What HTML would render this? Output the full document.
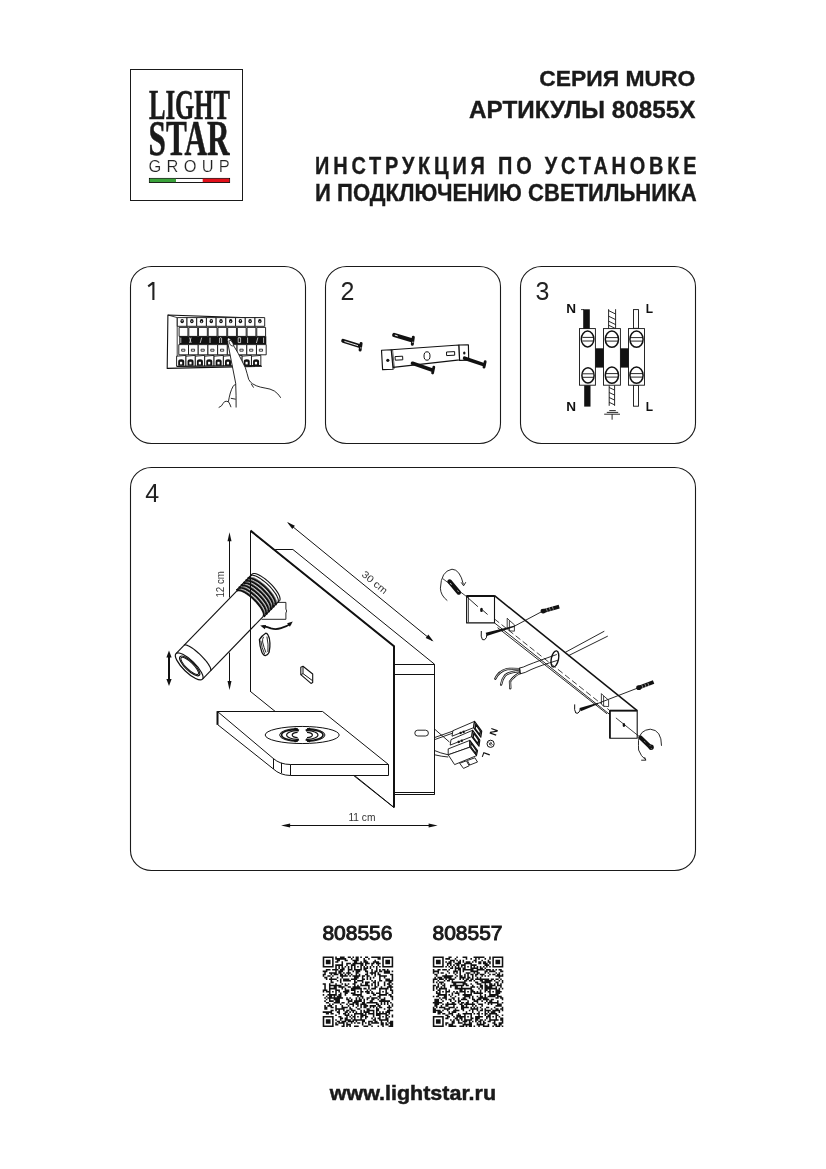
<!DOCTYPE html>
<html><head><meta charset="utf-8">
<style>
html,body{margin:0;padding:0;background:#fff;width:826px;height:1169px;overflow:hidden;}
svg{display:block;will-change:transform}
text{font-family:"Liberation Sans",sans-serif;}
.ser{font-family:"Liberation Serif",serif;}
</style></head><body>
<svg width="826" height="1169" viewBox="0 0 826 1169">
<rect width="826" height="1169" fill="#fff"/>
<!-- LOGO -->
<g id="logo">
<rect x="130.5" y="69.5" width="112" height="131" fill="none" stroke="#1a1a1a" stroke-width="1"/>
<text class="ser" x="149" y="118.5" font-size="41.5" font-weight="bold" fill="#1a1a1a" stroke="#1a1a1a" stroke-width="0.6" textLength="81" lengthAdjust="spacingAndGlyphs">LIGHT</text>
<text class="ser" x="148.6" y="155.2" font-size="51" font-weight="bold" fill="#1a1a1a" stroke="#1a1a1a" stroke-width="0.6" textLength="81" lengthAdjust="spacingAndGlyphs">STAR</text>
<text x="148.6" y="171.8" font-size="16.4" fill="#222" stroke="#fff" stroke-width="0.2" textLength="81.2" lengthAdjust="spacing">GROUP</text>
<rect x="149.4" y="178.4" width="80.2" height="4.1" fill="#fff" stroke="#000" stroke-width="0.9"/>
<rect x="149.7" y="178.7" width="26.3" height="3.4" fill="#3aa23a"/>
<rect x="202.7" y="178.7" width="26.6" height="3.4" fill="#e3101a"/>
</g>
<!-- HEADER -->
<g fill="#1a1a1a" font-weight="bold" stroke="#1a1a1a" stroke-width="0.35">
<text x="539.3" y="85.7" font-size="22.6" textLength="156" lengthAdjust="spacingAndGlyphs">СЕРИЯ MURO</text>
<text x="469" y="117.7" font-size="23.2" textLength="226.5" lengthAdjust="spacingAndGlyphs">АРТИКУЛЫ 80855X</text>
<text transform="translate(315.1 173.6) scale(0.86 1)" x="0" y="0" font-size="23.2" textLength="443.6" lengthAdjust="spacing">ИНСТРУКЦИЯ ПО УСТАНОВКЕ</text>
<text x="315.1" y="200.9" font-size="23.2" textLength="381.5" lengthAdjust="spacingAndGlyphs">И ПОДКЛЮЧЕНИЮ СВЕТИЛЬНИКА</text>
</g>
<!-- PANELS -->
<g fill="none" stroke="#1a1a1a" stroke-width="1.1">
<rect x="130.5" y="266.5" width="175" height="177" rx="21" ry="20"/>
<rect x="325.5" y="266.5" width="175" height="177" rx="21" ry="20"/>
<rect x="520.5" y="266.5" width="175" height="177" rx="21" ry="20"/>
<rect x="130.5" y="467.5" width="565" height="403" rx="21" ry="20"/>
</g>
<g fill="#222" font-size="25">
<text x="340.5" y="300">2</text>
<text x="535.5" y="300">3</text>
<text x="145.3" y="502">4</text>
</g>
<path d="M153.4 282V300M148.2 286.4L153.2 282.6" stroke="#222" stroke-width="2.1" fill="none"/>
<g id="p1" stroke-linejoin="round">
<path d="M262.5 318.4L167.9 315L167.2 368.4L262 366.2" fill="#fff" stroke="#111" stroke-width="1.1"/>
<path d="M167.9 315L177.2 317.6M177.2 317.6V366.8" fill="none" stroke="#111" stroke-width="0.8"/>
<rect x="177.30" y="317.6" width="9.71" height="8.7" fill="#fff" stroke="#111" stroke-width="0.9"/>
<ellipse cx="182.16" cy="321.2" rx="1.7" ry="2.1" fill="#111"/>
<rect x="181.66" y="320.20" width="1" height="1.2" fill="#fff"/>
<rect x="187.01" y="317.6" width="9.71" height="8.7" fill="#fff" stroke="#111" stroke-width="0.9"/>
<ellipse cx="191.87" cy="321.2" rx="1.7" ry="2.1" fill="#111"/>
<rect x="191.37" y="320.70" width="1" height="1.2" fill="#fff"/>
<rect x="196.72" y="317.6" width="9.71" height="8.7" fill="#fff" stroke="#111" stroke-width="0.9"/>
<ellipse cx="201.58" cy="321.2" rx="1.7" ry="2.1" fill="#111"/>
<rect x="201.08" y="321.20" width="1" height="1.2" fill="#fff"/>
<rect x="206.43" y="317.6" width="9.71" height="8.7" fill="#fff" stroke="#111" stroke-width="0.9"/>
<ellipse cx="211.28" cy="321.2" rx="1.7" ry="2.1" fill="#111"/>
<rect x="210.78" y="320.20" width="1" height="1.2" fill="#fff"/>
<rect x="216.14" y="317.6" width="9.71" height="8.7" fill="#fff" stroke="#111" stroke-width="0.9"/>
<ellipse cx="221.00" cy="321.2" rx="1.7" ry="2.1" fill="#111"/>
<rect x="220.50" y="320.70" width="1" height="1.2" fill="#fff"/>
<rect x="225.85" y="317.6" width="9.71" height="8.7" fill="#fff" stroke="#111" stroke-width="0.9"/>
<ellipse cx="230.71" cy="321.2" rx="1.7" ry="2.1" fill="#111"/>
<rect x="230.21" y="321.20" width="1" height="1.2" fill="#fff"/>
<rect x="235.56" y="317.6" width="9.71" height="8.7" fill="#fff" stroke="#111" stroke-width="0.9"/>
<ellipse cx="240.41" cy="321.2" rx="1.7" ry="2.1" fill="#111"/>
<rect x="239.91" y="320.20" width="1" height="1.2" fill="#fff"/>
<rect x="245.27" y="317.6" width="9.71" height="8.7" fill="#fff" stroke="#111" stroke-width="0.9"/>
<ellipse cx="250.12" cy="321.2" rx="1.7" ry="2.1" fill="#111"/>
<rect x="249.62" y="320.70" width="1" height="1.2" fill="#fff"/>
<rect x="254.98" y="317.6" width="9.71" height="8.7" fill="#fff" stroke="#111" stroke-width="0.9"/>
<ellipse cx="259.84" cy="321.2" rx="1.7" ry="2.1" fill="#111"/>
<rect x="259.34" y="321.20" width="1" height="1.2" fill="#fff"/>
<rect x="179.10" y="327.4" width="8.81" height="9" fill="#fff" stroke="#111" stroke-width="0.9"/>
<rect x="188.81" y="327.4" width="8.81" height="9" fill="#fff" stroke="#111" stroke-width="0.9"/>
<rect x="198.52" y="327.4" width="8.81" height="9" fill="#fff" stroke="#111" stroke-width="0.9"/>
<rect x="208.23" y="327.4" width="8.81" height="9" fill="#fff" stroke="#111" stroke-width="0.9"/>
<rect x="217.94" y="327.4" width="8.81" height="9" fill="#fff" stroke="#111" stroke-width="0.9"/>
<rect x="227.65" y="327.4" width="8.81" height="9" fill="#fff" stroke="#111" stroke-width="0.9"/>
<rect x="237.36" y="327.4" width="8.81" height="9" fill="#fff" stroke="#111" stroke-width="0.9"/>
<rect x="247.07" y="327.4" width="8.81" height="9" fill="#fff" stroke="#111" stroke-width="0.9"/>
<rect x="256.78" y="327.4" width="8.81" height="9" fill="#fff" stroke="#111" stroke-width="0.9"/>
<rect x="179.3" y="336.3" width="87" height="8" fill="#111"/>
<path d="M180.8 337.6V343M189.6 337.6L191.1 343M191.1 337.6L189.6 343M201.7 337.6L200.2 343M210.0 337.6V343M219.6 343V338.2Q220.6 337 221.6 338.2V343M238.2 337.8h2.4v4.8h-2.4zM247.6 337.6V343M257.9 337.6L256.4 343M263.6 337.6V343" stroke="#fff" stroke-width="0.7" fill="none"/>
<rect x="178.80" y="344.6" width="9.71" height="10.2" fill="#fff" stroke="#111" stroke-width="0.9"/>
<rect x="181.66" y="349.2" width="3.2" height="2" fill="#fff" stroke="#111" stroke-width="0.8"/>
<rect x="188.51" y="344.6" width="9.71" height="10.2" fill="#fff" stroke="#111" stroke-width="0.9"/>
<rect x="191.37" y="349.2" width="3.2" height="2" fill="#fff" stroke="#111" stroke-width="0.8"/>
<rect x="198.22" y="344.6" width="9.71" height="10.2" fill="#fff" stroke="#111" stroke-width="0.9"/>
<rect x="201.08" y="349.2" width="3.2" height="2" fill="#fff" stroke="#111" stroke-width="0.8"/>
<rect x="207.93" y="344.6" width="9.71" height="10.2" fill="#fff" stroke="#111" stroke-width="0.9"/>
<rect x="210.78" y="349.2" width="3.2" height="2" fill="#fff" stroke="#111" stroke-width="0.8"/>
<rect x="217.64" y="344.6" width="9.71" height="10.2" fill="#fff" stroke="#111" stroke-width="0.9"/>
<rect x="220.50" y="349.2" width="3.2" height="2" fill="#fff" stroke="#111" stroke-width="0.8"/>
<rect x="227.35" y="344.6" width="9.71" height="10.2" fill="#fff" stroke="#111" stroke-width="0.9"/>
<rect x="230.21" y="349.2" width="3.2" height="2" fill="#fff" stroke="#111" stroke-width="0.8"/>
<rect x="237.06" y="344.6" width="9.71" height="10.2" fill="#fff" stroke="#111" stroke-width="0.9"/>
<rect x="239.91" y="349.2" width="3.2" height="2" fill="#fff" stroke="#111" stroke-width="0.8"/>
<rect x="246.77" y="344.6" width="9.71" height="10.2" fill="#fff" stroke="#111" stroke-width="0.9"/>
<rect x="249.62" y="349.2" width="3.2" height="2" fill="#fff" stroke="#111" stroke-width="0.8"/>
<rect x="256.48" y="344.6" width="9.71" height="10.2" fill="#fff" stroke="#111" stroke-width="0.9"/>
<rect x="259.34" y="349.2" width="3.2" height="2" fill="#fff" stroke="#111" stroke-width="0.8"/>
<path d="M176.60 366.2V356.2L185.96 355.4V366" fill="#fff" stroke="#111" stroke-width="0.9"/>
<path d="M178.20 365.8V361.6Q178.20 359.2 181.20 359.2Q184.20 359.2 184.20 361.6V365.8Z" fill="#111"/>
<rect x="180.00" y="361.8" width="2.2" height="2.6" fill="#fff"/>
<path d="M185.96 366.2V356.2L195.32 355.4V366" fill="#fff" stroke="#111" stroke-width="0.9"/>
<path d="M187.56 365.8V361.6Q187.56 359.2 190.56 359.2Q193.56 359.2 193.56 361.6V365.8Z" fill="#111"/>
<rect x="189.36" y="361.8" width="2.2" height="2.6" fill="#fff"/>
<path d="M195.32 366.2V356.2L204.68 355.4V366" fill="#fff" stroke="#111" stroke-width="0.9"/>
<path d="M196.92 365.8V361.6Q196.92 359.2 199.92 359.2Q202.92 359.2 202.92 361.6V365.8Z" fill="#111"/>
<rect x="198.72" y="361.8" width="2.2" height="2.6" fill="#fff"/>
<path d="M204.68 366.2V356.2L214.04 355.4V366" fill="#fff" stroke="#111" stroke-width="0.9"/>
<path d="M206.28 365.8V361.6Q206.28 359.2 209.28 359.2Q212.28 359.2 212.28 361.6V365.8Z" fill="#111"/>
<rect x="208.08" y="361.8" width="2.2" height="2.6" fill="#fff"/>
<path d="M214.04 366.2V356.2L223.40 355.4V366" fill="#fff" stroke="#111" stroke-width="0.9"/>
<path d="M215.64 365.8V361.6Q215.64 359.2 218.64 359.2Q221.64 359.2 221.64 361.6V365.8Z" fill="#111"/>
<rect x="217.44" y="361.8" width="2.2" height="2.6" fill="#fff"/>
<path d="M223.40 366.2V356.2L232.76 355.4V366" fill="#fff" stroke="#111" stroke-width="0.9"/>
<path d="M225.00 365.8V361.6Q225.00 359.2 228.00 359.2Q231.00 359.2 231.00 361.6V365.8Z" fill="#111"/>
<rect x="226.80" y="361.8" width="2.2" height="2.6" fill="#fff"/>
<path d="M232.76 366.2V356.2L242.12 355.4V366" fill="#fff" stroke="#111" stroke-width="0.9"/>
<path d="M234.36 365.8V361.6Q234.36 359.2 237.36 359.2Q240.36 359.2 240.36 361.6V365.8Z" fill="#111"/>
<rect x="236.16" y="361.8" width="2.2" height="2.6" fill="#fff"/>
<path d="M242.12 366.2V356.2L251.48 355.4V366" fill="#fff" stroke="#111" stroke-width="0.9"/>
<path d="M243.72 365.8V361.6Q243.72 359.2 246.72 359.2Q249.72 359.2 249.72 361.6V365.8Z" fill="#111"/>
<rect x="245.52" y="361.8" width="2.2" height="2.6" fill="#fff"/>
<path d="M251.48 366.2V356.2L260.84 355.4V366" fill="#fff" stroke="#111" stroke-width="0.9"/>
<path d="M253.08 365.8V361.6Q253.08 359.2 256.08 359.2Q259.08 359.2 259.08 361.6V365.8Z" fill="#111"/>
<rect x="254.88" y="361.8" width="2.2" height="2.6" fill="#fff"/>
<path d="M176.6 366.4L261 365.6" stroke="#111" stroke-width="1.1"/>
<path d="M227.3 340.2Q227 338.2 228.6 338Q231 338.4 233.8 345.6L238.2 353.2L245.4 367.8L248.7 379.4L252.6 383.8Q256 386 260.4 387.1L270 389.1Q275.6 391 277.8 393.9L281 398.2L281 412L218 412L218.7 407.5Q222 404.4 224.5 401.7Q226.6 401.4 228.4 401.7L230.3 393L233.2 386.2L235.7 384Z" fill="#fff" stroke="none"/>
<path d="M227.3 340.4Q226.8 338.2 228.4 337.8Q230.6 337.8 233.6 345.6L238.1 353.2Q242 361 245.4 367.8Q247 373 248.7 379.4Q250.4 382.6 252.6 383.8Q256 386 260.4 387.1Q265 388 270 389.1Q275 390.6 277.8 393.9Q279.6 396 280.7 397.8M227.3 340.4L231.5 362L235.7 383.3Q236.2 395 236.1 407.5M251.2 383.8L253.6 387.6M235.7 384.2Q234 385 233.2 386.2Q231.5 389 230.3 393Q229.2 397 228.4 401.7Q229.8 403.5 231 407.2M228.4 401.7Q226 400.8 224.5 401.7Q222.8 403.6 221.5 405.8Q220 406.8 218.7 407.5M230.8 398.3L235.7 399.2" fill="none" stroke="#111" stroke-width="0.9"/>
<path d="M228.9 340.7Q229.6 339.6 231.2 340.8Q233.2 343 233.8 345.8Q232.2 346.4 230.6 345.2Q229 343 228.9 340.7Z" fill="#fff" stroke="#111" stroke-width="0.8"/>
</g>
<g id="p2" stroke-linejoin="round">
<!-- bracket -->
<g fill="#fff" stroke="#111" stroke-width="1.15">
<path d="M391.2 349.8L459 345L459.6 359.9L393.1 367.4Z"/>
<path d="M381.5 350.2L391.2 349.8L393.1 369.2L382.6 369.6Z"/>
<path d="M459 345L468.4 344.9L468.7 360.2L459.6 360.4Z"/>
</g>
<path d="M392.6 350L394.4 368.6" stroke="#111" stroke-width="0.7" fill="none"/>
<circle cx="387.8" cy="360.3" r="1.6" fill="#111"/>
<ellipse cx="464.3" cy="353" rx="1.2" ry="1.6" fill="#111"/>
<g fill="none" stroke="#111" stroke-width="1">
<path d="M395 356.6L402.6 356.2L402.8 359.8L395.3 360.2Z"/>
<ellipse cx="427" cy="356" rx="3" ry="4.2"/>
<path d="M446.5 352L454.6 351.6L454.7 355.2L446.6 355.6Z"/>
</g>
<!-- screws -->
<g stroke-linecap="round" fill="none" stroke="#111">
<path d="M343.2 340.9L360 346.2" stroke-width="4"/>
<path d="M394.2 335L411.8 340.3" stroke-width="4.2"/>
<path d="M412.5 363.3L432 370" stroke-width="3.6"/>
<path d="M464.6 358.2L483.6 364.6" stroke-width="3.6"/>
<path d="M361.1 343.4L360.1 350" stroke-width="3"/>
<path d="M413.3 337.2L412.3 344.2" stroke-width="3"/>
<path d="M433.8 367.2L432.6 373" stroke-width="2.8"/>
<path d="M485.2 361.6L484 367.2" stroke-width="2.8"/>
</g>
<g stroke="#fff" fill="none" stroke-width="0.9" stroke-linecap="round">
<path d="M344.8 341.5L357.6 345.5"/>
<path d="M395.2 335.2L397.4 335.9"/>
<path d="M360.9 347.6V348.2M412.9 342V342.6"/>
</g>
</g>

<g id="p3">
<g font-size="13" font-weight="bold" fill="#111">
<text x="566.3" y="312.6" textLength="9.8" lengthAdjust="spacingAndGlyphs">N</text>
<text x="645.8" y="312.6" textLength="7.3" lengthAdjust="spacingAndGlyphs">L</text>
<text x="566.3" y="410.6" textLength="9.8" lengthAdjust="spacingAndGlyphs">N</text>
<text x="645.8" y="410.6" textLength="7.3" lengthAdjust="spacingAndGlyphs">L</text>
</g>
<!-- wires -->
<rect x="583.2" y="309.3" width="6.6" height="20" fill="#111"/>
<path d="M581 309.6h3" stroke="#111" stroke-width="0.8"/>
<rect x="584.2" y="385.2" width="6.3" height="21.4" fill="#111"/>
<path d="M608.6 309.2V328.3M615.6 309.2V328.3M608.6 310.6L615.6 314.0M608.6 316.2L615.6 319.6M608.6 321.2L615.6 324.6M608.6 325.2L615.6 328.6" stroke="#111" stroke-width="0.9" fill="none"/>
<path d="M609.2 385.2V405.8M614.6 385.2V405.8M609.2 387.5L614.6 390.1M609.2 392.5L614.6 395.1M609.2 397.5L614.6 400.1M609.2 402.3L614.6 404.9" stroke="#111" stroke-width="0.9" fill="none"/>
<rect x="633.5" y="309.6" width="5" height="18.7" fill="#fff" stroke="#111" stroke-width="0.9"/>
<rect x="633.5" y="385.2" width="5" height="21" fill="#fff" stroke="#111" stroke-width="0.9"/>
<!-- blocks -->
<g fill="#fff" stroke="#111" stroke-width="0.9">
<rect x="579.5" y="328.6" width="15.9" height="56.6"/>
<rect x="603.5" y="328.6" width="16.9" height="56.6"/>
<rect x="628.5" y="328.6" width="16" height="56.6"/>
</g>
<rect x="595.4" y="348.3" width="8.1" height="19.3" fill="#111"/>
<rect x="620.4" y="348.3" width="8.1" height="19.3" fill="#111"/>
<!-- screws -->
<g fill="#fff" stroke="#111" stroke-width="1.5">
<ellipse cx="587.6" cy="339" rx="6.3" ry="7.9"/>
<ellipse cx="588" cy="375.4" rx="6.1" ry="7.6"/>
<ellipse cx="611.9" cy="339.2" rx="6.6" ry="8.1"/>
<ellipse cx="611.9" cy="375.2" rx="6.6" ry="8.1"/>
<ellipse cx="636.5" cy="339.2" rx="6.6" ry="8.1"/>
<ellipse cx="636.5" cy="375.2" rx="6.6" ry="8.1"/>
</g>
<g fill="none" stroke="#111" stroke-width="0.9">
<path d="M582.5 337.4h10.5M582.5 341h10.5M582.8 373.8h10.5M582.8 377.3h10.5"/>
<path d="M605.8 337.6h12.2M605.8 341.1h12.2M605.8 373.6h12.2M605.8 377.1h12.2"/>
<path d="M630.4 337.6h12.2M630.4 341.1h12.2M630.4 373.6h12.2M630.4 377.1h12.2"/>
</g>
<!-- earth -->
<g stroke="#111" stroke-width="0.9" fill="none">
<path d="M609.3 410.6h6.5M606.8 412.4h11.4M604.2 414.2h15.8M612.1 414.2v5.5"/>
</g>
</g>

<g id="p4" stroke-linejoin="round" stroke-linecap="butt">
<path d="M275.2 549.5L292.9 549.5 434.5 664.2 434.5 794.5 394.0 794.5 394.0 646.3Z" fill="#fff" stroke="#111" stroke-width="0"/>
<path d="M275.2 549.5L292.9 549.5 434.5 664.2 434.5 794.5 394.0 794.5" fill="none" stroke="#111" stroke-width="1.0" />
<path d="M394.5 664.5L434.5 664.5" fill="none" stroke="#111" stroke-width="1" />
<path d="M394.5 674.5L434.5 674.5" fill="none" stroke="#111" stroke-width="1" />
<path d="M394.5 792.5L434.5 792.5" fill="none" stroke="#111" stroke-width="1" />
<path d="M394.5 794.5L434.5 794.5" fill="none" stroke="#111" stroke-width="1" />
<rect x="414.8" y="730.2" width="13.6" height="5.8" rx="2.9" fill="#fff" stroke="#111" stroke-width="0.9"/>
<path d="M250.5 531.0L394.0 646.3 394.0 807.4 250.5 691.5Z" fill="#fff" stroke="#111" stroke-width="1.0"/>
<path d="M250.5 530.6L394.0 646.3 394.0 807.6" fill="none" stroke="#111" stroke-width="2.0" stroke-linejoin="miter"/>
<path d="M288.5 523.2L432.0 640.5" fill="none" stroke="#111" stroke-width="1.0" />
<path d="M287.0 522.0L294.9 525.7 292.3 529.0Z" fill="#111"/>
<path d="M433.6 641.6L425.7 637.9 428.3 634.6Z" fill="#111"/>
<text transform="translate(372.6 585) rotate(39.3)" text-anchor="middle" font-size="10" fill="#333" textLength="30" lengthAdjust="spacingAndGlyphs">30 cm</text>
<path d="M300.8 667.2L303 666.3L312.7 674V682.6L311 683.4L300.8 674.6Z" fill="#fff" stroke="#111" stroke-width="1.1"/>
<path d="M300.8 674.6L303 673.6L312.7 680.8M303 666.3V673.6" fill="none" stroke="#111" stroke-width="1"/>
<path d="M265.7 633.2Q262 635.4 259.4 639.6Q259.6 646 261.9 652.3Q263.4 655.6 265.3 655.7Q268 655 269.1 652.3Q270.2 647 269.9 643Q269.8 637.8 268.2 635.3Q267 633.2 265.7 633.2Z" fill="#fff" stroke="#111" stroke-width="1.3"/>
<path d="M260.8 640.6Q261.8 648 264.6 654M263.6 636.8Q262.2 639 262.6 642Q264 648 266 652.6M266.9 636.6Q268.6 644 267.9 652" fill="none" stroke="#111" stroke-width="0.9"/>
<path d="M262.5 626.2Q268 627 271 628.4Q276 629.8 281 628.2Q287 626.4 290.8 623.6" fill="none" stroke="#111" stroke-width="1.8"/>
<path d="M260.2 625.6L266.1 624.9 264.9 629.2Z" fill="#111"/>
<path d="M292.8 621.6L289.9 626.7 287.1 623.3Z" fill="#111"/>
<path d="M261.5 619.3H285.9V613Q287.4 611 285.9 609V602.4H276.7" fill="none" stroke="#111" stroke-width="0.9"/>
<path d="M202.5 679.2L201.8 679.6 200.9 679.8 199.9 679.8 198.6 679.6 197.2 679.1 195.6 678.5 194.0 677.6 192.2 676.5 190.4 675.2 188.6 673.8 186.8 672.3 185.1 670.7 183.4 669.0 181.8 667.2 180.3 665.4 179.0 663.7 177.9 662.0 177.0 660.3 176.2 658.8 175.7 657.4 175.4 656.2 175.4 655.1 175.6 654.2 176.0 653.6 253.2 573.1 253.8 572.7 254.7 572.5 255.8 572.5 257.1 572.8 258.5 573.3 260.1 574.0 261.8 574.9 263.6 576.0 265.4 577.3 267.3 578.8 269.2 580.4 271.0 582.1 272.7 583.8 274.4 585.6 275.9 587.4 277.2 589.2 278.4 591.0 279.4 592.7 280.2 594.2 280.7 595.7 281.0 596.9 281.1 598.0 280.9 598.9 280.4 599.6Z" fill="#fff" stroke="#111" stroke-width="0"/>
<path d="M184.0 645.3L236.9 590.8" fill="none" stroke="#111" stroke-width="1.15" />
<path d="M210.5 670.9L263.3 616.4" fill="none" stroke="#111" stroke-width="1.15" />
<path d="M176.0 653.6L184.0 645.3" fill="none" stroke="#111" stroke-width="1.15" />
<path d="M202.5 679.2L210.5 670.9" fill="none" stroke="#111" stroke-width="1.15" />
<path d="M210.5 670.9L210.8 670.4 210.8 669.6 210.7 668.7 210.3 667.6 209.6 666.3 208.8 664.9 207.8 663.3 206.6 661.7 205.2 660.0 203.7 658.3 202.1 656.6 200.4 654.9 198.6 653.2 196.9 651.7 195.1 650.2 193.4 648.9 191.7 647.7 190.1 646.8 188.7 646.0 187.4 645.4 186.2 645.0 185.3 644.9 184.6 645.0 184.0 645.3" fill="none" stroke="#111" stroke-width="1.15" />
<ellipse cx="189.2" cy="666.4" rx="18.4" ry="6" transform="rotate(44.1 189.2 666.4)" fill="#fff" stroke="#111" stroke-width="1.2"/>
<ellipse cx="189.7" cy="665.9" rx="13.4" ry="4.5" transform="rotate(44.1 189.7 665.9)" fill="#fff" stroke="#111" stroke-width="1.2"/>
<ellipse cx="189.7" cy="665.9" rx="11.8" ry="3.5" transform="rotate(44.1 189.7 665.9)" fill="none" stroke="#111" stroke-width="1.0"/>
<path d="M263.6 616.7L264.0 616.0 264.2 615.1 264.2 614.0 263.9 612.8 263.4 611.4 262.6 609.8 261.6 608.1 260.5 606.4 259.1 604.6 257.6 602.8 256.0 601.0 254.3 599.3 252.5 597.6 250.6 596.1 248.8 594.6 247.0 593.3 245.2 592.2 243.5 591.3 241.9 590.6 240.5 590.1 239.2 589.9 238.1 589.8 237.3 590.1 236.6 590.5" fill="none" stroke="#111" stroke-width="2.6" />
<path d="M264.9 614.5L264.9 613.6 264.7 612.6 264.4 611.5 263.9 610.2 263.2 608.9 262.4 607.5 261.4 606.1 260.3 604.6 259.1 603.0 257.8 601.5 256.4 600.0 255.0 598.6 253.5 597.2 251.9 595.8 250.4 594.6 248.8 593.4 247.3 592.4 245.8 591.5 244.4 590.7 243.0 590.0 241.8 589.6 240.7 589.3 239.6 589.1 238.8 589.1" fill="none" stroke="#fff" stroke-width="0.5" />
<path d="M265.9 614.3L266.3 613.6 266.5 612.8 266.5 611.7 266.2 610.4 265.6 609.0 264.9 607.4 263.9 605.8 262.8 604.0 261.4 602.3 259.9 600.5 258.3 598.7 256.6 596.9 254.8 595.3 252.9 593.7 251.1 592.2 249.3 591.0 247.5 589.8 245.8 588.9 244.2 588.2 242.8 587.7 241.5 587.5 240.4 587.5 239.6 587.7 238.9 588.1" fill="none" stroke="#111" stroke-width="2.6" />
<path d="M267.2 612.1L267.2 611.2 267.0 610.2 266.7 609.1 266.2 607.9 265.5 606.5 264.7 605.1 263.7 603.7 262.6 602.2 261.4 600.7 260.1 599.2 258.7 597.7 257.3 596.2 255.8 594.8 254.2 593.5 252.7 592.2 251.1 591.0 249.6 590.0 248.1 589.1 246.7 588.3 245.3 587.7 244.1 587.2 243.0 586.9 241.9 586.7 241.0 586.8" fill="none" stroke="#fff" stroke-width="0.5" />
<path d="M268.2 611.9L268.6 611.3 268.8 610.4 268.8 609.3 268.5 608.0 267.9 606.6 267.2 605.1 266.2 603.4 265.1 601.7 263.7 599.9 262.2 598.1 260.6 596.3 258.9 594.6 257.1 592.9 255.2 591.3 253.4 589.9 251.6 588.6 249.8 587.5 248.1 586.6 246.5 585.9 245.1 585.4 243.8 585.1 242.7 585.1 241.9 585.3 241.2 585.8" fill="none" stroke="#111" stroke-width="2.6" />
<path d="M269.5 609.8L269.5 608.9 269.3 607.9 269.0 606.7 268.5 605.5 267.8 604.2 267.0 602.8 266.0 601.3 264.9 599.8 263.7 598.3 262.4 596.8 261.0 595.3 259.6 593.8 258.1 592.4 256.5 591.1 255.0 589.8 253.4 588.7 251.9 587.6 250.4 586.7 249.0 585.9 247.6 585.3 246.4 584.8 245.2 584.5 244.2 584.4 243.3 584.4" fill="none" stroke="#fff" stroke-width="0.5" />
<path d="M270.5 609.6L270.9 608.9 271.1 608.0 271.1 606.9 270.8 605.7 270.2 604.3 269.5 602.7 268.5 601.0 267.4 599.3 266.0 597.5 264.5 595.7 262.9 593.9 261.2 592.2 259.4 590.5 257.5 588.9 255.7 587.5 253.9 586.2 252.1 585.1 250.4 584.2 248.8 583.5 247.4 583.0 246.1 582.8 245.0 582.7 244.2 583.0 243.5 583.4" fill="none" stroke="#111" stroke-width="2.6" />
<path d="M271.8 607.4L271.8 606.5 271.6 605.5 271.3 604.4 270.8 603.1 270.1 601.8 269.3 600.4 268.3 598.9 267.2 597.5 266.0 595.9 264.7 594.4 263.3 592.9 261.9 591.5 260.4 590.1 258.8 588.7 257.3 587.5 255.7 586.3 254.2 585.3 252.7 584.3 251.3 583.6 249.9 582.9 248.7 582.5 247.5 582.2 246.5 582.0 245.6 582.0" fill="none" stroke="#fff" stroke-width="0.5" />
<path d="M272.8 607.2L273.2 606.5 273.4 605.6 273.4 604.6 273.1 603.3 272.5 601.9 271.8 600.3 270.8 598.7 269.7 596.9 268.3 595.1 266.8 593.3 265.2 591.6 263.5 589.8 261.7 588.1 259.8 586.6 258.0 585.1 256.2 583.8 254.4 582.7 252.7 581.8 251.1 581.1 249.7 580.6 248.4 580.4 247.3 580.4 246.4 580.6 245.8 581.0" fill="none" stroke="#111" stroke-width="2.6" />
<path d="M274.1 605.0L274.1 604.1 273.9 603.1 273.6 602.0 273.1 600.8 272.4 599.4 271.6 598.0 270.6 596.6 269.5 595.1 268.3 593.6 267.0 592.1 265.6 590.6 264.2 589.1 262.7 587.7 261.1 586.3 259.6 585.1 258.0 583.9 256.5 582.9 255.0 582.0 253.6 581.2 252.2 580.6 251.0 580.1 249.8 579.8 248.8 579.6 247.9 579.7" fill="none" stroke="#fff" stroke-width="0.5" />
<path d="M275.1 604.8L275.5 604.2 275.7 603.3 275.7 602.2 275.4 600.9 274.8 599.5 274.1 598.0 273.1 596.3 271.9 594.6 270.6 592.8 269.1 591.0 267.5 589.2 265.8 587.4 264.0 585.8 262.1 584.2 260.3 582.8 258.5 581.5 256.7 580.4 255.0 579.5 253.4 578.7 252.0 578.3 250.7 578.0 249.6 578.0 248.7 578.2 248.1 578.7" fill="none" stroke="#111" stroke-width="2.6" />
<path d="M276.4 602.6L276.4 601.8 276.2 600.7 275.9 599.6 275.3 598.4 274.7 597.1 273.9 595.7 272.9 594.2 271.8 592.7 270.6 591.2 269.3 589.7 267.9 588.2 266.5 586.7 264.9 585.3 263.4 584.0 261.9 582.7 260.3 581.6 258.8 580.5 257.3 579.6 255.9 578.8 254.5 578.2 253.3 577.7 252.1 577.4 251.1 577.3 250.2 577.3" fill="none" stroke="#fff" stroke-width="0.5" />
<path d="M277.7 602.5L278.2 601.9 278.3 601.0 278.3 599.9 278.0 598.6 277.4 597.2 276.7 595.6 275.7 593.9 274.5 592.2 273.1 590.3 271.6 588.5 270.0 586.7 268.2 584.9 266.4 583.2 264.5 581.6 262.6 580.2 260.8 578.9 259.0 577.7 257.3 576.8 255.7 576.1 254.2 575.6 252.9 575.3 251.9 575.3 251.0 575.5 250.3 575.9" fill="none" stroke="#111" stroke-width="1.1" />
<path d="M279.5 600.7L279.9 600.1 280.1 599.2 280.0 598.1 279.7 596.8 279.2 595.4 278.4 593.8 277.4 592.1 276.2 590.4 274.9 588.6 273.3 586.7 271.7 584.9 269.9 583.1 268.1 581.4 266.2 579.8 264.4 578.4 262.5 577.1 260.7 575.9 259.0 575.0 257.4 574.3 256.0 573.8 254.7 573.5 253.6 573.5 252.7 573.7 252.0 574.2" fill="none" stroke="#111" stroke-width="1.1" />
<path d="M263.8 616.9L279.5 600.7" fill="none" stroke="#111" stroke-width="1.1" />
<path d="M236.4 590.3L252.0 574.2" fill="none" stroke="#111" stroke-width="1.1" />
<path d="M250.5 531.0L250.5 692.0" fill="none" stroke="#111" stroke-width="1.0" />
<path d="M229.5 538.0L229.5 597.5" fill="none" stroke="#111" stroke-width="1.0" />
<path d="M229.5 652.6L229.5 684.0" fill="none" stroke="#111" stroke-width="1.0" />
<path d="M229.5 532.3L231.5 541.3 227.5 541.3Z" fill="#111"/>
<path d="M229.5 690.0L227.5 681.0 231.5 681.0Z" fill="#111"/>
<text transform="translate(223.8 584.3) rotate(-90)" text-anchor="middle" font-size="10" fill="#333" textLength="26.5" lengthAdjust="spacingAndGlyphs">12 cm</text>
<path d="M169.0 655.0L169.0 681.5" fill="none" stroke="#111" stroke-width="2.0" />
<path d="M169.0 650.6L171.6 657.6 166.4 657.6Z" fill="#111"/>
<path d="M169.0 686.0L166.4 679.0 171.6 679.0Z" fill="#111"/>
<path d="M217.5 711.5H322.6L388.5 764.5V775.5H290.6Q280 775.3 273.2 768.8L217.5 724.5Z" fill="#fff" stroke="none"/>
<path d="M217.5 711.5H322.6L388.5 764.5V775.5H290.6Q280 775.3 273.2 768.8L217.5 724.5" fill="none" stroke="#111" stroke-width="1"/>
<path d="M217.5 711.5L273.2 758.4Q280 764.5 290.6 764.5H388.5" fill="none" stroke="#111" stroke-width="1"/>
<path d="M217.5 711.2L217.5 724.8" fill="none" stroke="#111" stroke-width="2.0" />
<path d="M273.5 758.7L273.5 769.0" fill="none" stroke="#111" stroke-width="1" />
<path d="M281.5 762.8L281.5 773.0" fill="none" stroke="#111" stroke-width="1" />
<path d="M290.5 764.5L290.5 775.5" fill="none" stroke="#111" stroke-width="1" />
<path d="M353.6 775.5L393.7 807.4" fill="none" stroke="#111" stroke-width="1.0" />
<ellipse cx="302.2" cy="735" rx="37" ry="8.55" fill="#fff" stroke="#111" stroke-width="1.0"/>
<path d="M297.6 728.6A18 6.4 0 1 0 297.6 741.4" fill="none" stroke="#111" stroke-width="1.0"/>
<path d="M297.6 729.4A16 5.6 0 1 0 297.6 740.6" fill="none" stroke="#111" stroke-width="1.6"/>
<path d="M297.6 730.6A11 4.4 0 1 0 297.6 739.4" fill="none" stroke="#111" stroke-width="1.1"/>
<path d="M297.6 732.4A5.4 2.6 0 1 0 297.6 737.6" fill="none" stroke="#111" stroke-width="1.2"/>
<path d="M294.4 728.4L298.8 730.8M294.4 741.6L298.8 739.2" stroke="#111" stroke-width="2.2" fill="none"/>
<path d="M307.0 728.6A18 6.4 0 1 1 307.0 741.4" fill="none" stroke="#111" stroke-width="1.0"/>
<path d="M307.0 729.4A16 5.6 0 1 1 307.0 740.6" fill="none" stroke="#111" stroke-width="1.6"/>
<path d="M307.0 730.6A11 4.4 0 1 1 307.0 739.4" fill="none" stroke="#111" stroke-width="1.1"/>
<path d="M307.0 732.4A5.4 2.6 0 1 1 307.0 737.6" fill="none" stroke="#111" stroke-width="1.2"/>
<path d="M310.2 728.4L305.8 730.8M310.2 741.6L305.8 739.2" stroke="#111" stroke-width="2.2" fill="none"/>
<path d="M286.0 825.5L432.5 825.5" fill="none" stroke="#111" stroke-width="1.0" />
<path d="M281.1 825.5L290.1 823.4 290.1 827.6Z" fill="#111"/>
<path d="M437.6 825.5L428.6 827.6 428.6 823.4Z" fill="#111"/>
<text x="361.9" y="821.1" text-anchor="middle" font-size="11" fill="#333" textLength="27" lengthAdjust="spacingAndGlyphs">11 cm</text>
</g>
<g id="p4b" stroke-linejoin="round">
<path d="M434.7 737.5L452.9 731.1M434.7 739.6L452.5 733.2M434.7 729.2L449.5 742.1M434.7 750.6Q440 753 448.2 754.8M434.7 754.8Q441 756.4 448.2 757" fill="none" stroke="#111" stroke-width="0.9"/>
<path d="M452.9 730.7L474.5 721.4 473.6 727.7 452.0 736.2Z" fill="#fff" stroke="#111" stroke-width="0.9"/>
<path d="M474.5 721.4L481.7 731.1 480.8 737.2 473.6 727.7Z" fill="#fff" stroke="#111" stroke-width="1.2"/>
<path d="M475.8 724.3L480.4 731.1 479.8 734.9 475.1 728.6Z" fill="#fff" stroke="#111" stroke-width="1.4"/>
<path d="M459.7 733.2L465.6 731.1" stroke="#111" stroke-width="2.2" stroke-dasharray="2 1.2"/>
<path d="M451.0 739.6L472.6 730.3 471.8 736.6 450.2 745.1Z" fill="#fff" stroke="#111" stroke-width="0.9"/>
<path d="M472.6 730.3L479.8 740.0 479.0 746.1 471.8 736.6Z" fill="#fff" stroke="#111" stroke-width="1.2"/>
<path d="M473.9 733.2L478.6 740.0 478.0 743.8 473.2 737.5Z" fill="#fff" stroke="#111" stroke-width="1.4"/>
<path d="M457.8 742.1L463.7 740.0" stroke="#111" stroke-width="2.2" stroke-dasharray="2 1.2"/>
<path d="M448.2 748.9L469.8 740.4 469.8 747.2 448.2 754.8Z" fill="#fff" stroke="#111" stroke-width="0.9"/>
<path d="M469.8 740.4L477.5 750.6 476.4 755.7 469.8 747.2Z" fill="#fff" stroke="#111" stroke-width="1.2"/>
<path d="M471.1 743.0L476.4 750.6 475.8 753.6 470.8 746.8Z" fill="#fff" stroke="#111" stroke-width="1.3"/>
<path d="M448.2 754.8L469.8 747.2 476.4 755.7 454.6 764.6Z" fill="#fff" stroke="#111" stroke-width="0.9"/>
<path d="M459.7 763.3L466.4 760.8 469.2 765.8 463.5 768.4Z" fill="#fff" stroke="#111" stroke-width="0.9"/>
<path d="M467.3 760.5L474.9 757.8 477.5 762.0 469.8 765.0Z" fill="#fff" stroke="#111" stroke-width="0.9"/>
<g font-weight="bold" fill="#111" font-size="10">
<text transform="translate(493.7,731.8) rotate(110)" text-anchor="middle" dominant-baseline="central">N</text>
<text transform="translate(486.1,755.3) rotate(110)" text-anchor="middle" dominant-baseline="central">L</text>
</g>
<circle cx="490.6" cy="743.8" r="3.6" fill="#fff" stroke="#111" stroke-width="1"/>
<path d="M488.6 742.4L491.4 746.0M490.0 741.6L492.6 745.0M489.0 744.8L492.0 742.6" stroke="#111" stroke-width="0.7"/>
<path d="M494.5 595.7L637.2 710.6 609.9 710.6 494.5 622.9Z" fill="#fff" stroke="#111" stroke-width="0"/>
<path d="M494.5 595.7L637.2 710.6" fill="none" stroke="#111" stroke-width="1.5" />
<path d="M494.5 622.9L609.9 714.6" fill="none" stroke="#111" stroke-width="0.9" />
<path d="M497.5 627.6L607.0 713.8" fill="none" stroke="#111" stroke-width="0.9" />
<path d="M494.5 619.0L609.9 710.6" fill="none" stroke="#111" stroke-width="0.8" stroke-dasharray="6 3"/>
<path d="M466.6 595.7L494.5 595.7 494.5 622.9 466.6 622.9Z" fill="#fff" stroke="#111" stroke-width="1.1"/>
<path d="M466.6 596.0L494.5 596.0" fill="none" stroke="#111" stroke-width="2.0" />
<path d="M468.4 596.6L468.4 622.2" fill="none" stroke="#111" stroke-width="0.8" />
<path d="M609.9 710.6L637.2 710.6 637.2 738.3 609.9 738.3Z" fill="#fff" stroke="#111" stroke-width="1.1"/>
<path d="M609.9 710.6L637.2 710.6" fill="none" stroke="#111" stroke-width="1.8" />
<path d="M609.9 710.6L609.9 738.3" fill="none" stroke="#111" stroke-width="1.6" />
<path d="M466.5 596.5L477.9 606.7" fill="none" stroke="#111" stroke-width="0.9" />
<path d="M482.8 610.3L487.6 614.5" fill="none" stroke="#111" stroke-width="0.9" />
<path d="M615.9 717.9L651.9 746.6" fill="none" stroke="#111" stroke-width="0.8" />
<ellipse cx="481.5" cy="609.9" rx="1.4" ry="2.2" fill="#111"/>
<ellipse cx="623.9" cy="725" rx="1.3" ry="2" fill="#111"/>
<path d="M507.2 618.2L509.4 620.4000000000001V630.8000000000001L507.2 628.6Z M509.4 620.4000000000001L514.4 624.8000000000001V631.2L509.4 630.8000000000001" fill="#fff" stroke="#111" stroke-width="0.8"/>
<path d="M601.4 693.6L603.6 695.8000000000001V706.2L601.4 704.0Z M603.6 695.8000000000001L608.6 700.2V706.6L603.6 706.2" fill="#fff" stroke="#111" stroke-width="0.8"/>
<path d="M565.2 652.4L604.3 631.2M568 655.9L607.8 636.1" fill="none" stroke="#111" stroke-width="0.9"/>
<path d="M556.8 654.5Q538 661 528 665Q523 667.6 519.1 668.1M557.8 660.3Q540 665.6 531 669.6Q525 673 520 673.9" fill="none" stroke="#111" stroke-width="0.9"/>
<path d="M519.3 668.2L520 674" stroke="#111" stroke-width="1.6"/>
<ellipse cx="554.9" cy="658.9" rx="3.6" ry="8.2" transform="rotate(12 554.9 658.9)" fill="none" stroke="#111" stroke-width="1.4"/>
<path d="M519.1 669.1Q512 668.6 507 669.1Q499 671 495.3 678.7" fill="none" stroke="#111" stroke-width="2.3" stroke-linecap="round"/>
<path d="M519.1 669.1Q512 668.6 507 669.1Q499 671 495.3 678.7" fill="none" stroke="#fff" stroke-width="0.8"/>
<path d="M519.3 671Q509 672 505 675.4Q502 679 501.1 684.6" fill="none" stroke="#111" stroke-width="2.3" stroke-linecap="round"/>
<path d="M519.3 671Q509 672 505 675.4Q502 679 501.1 684.6" fill="none" stroke="#fff" stroke-width="0.8"/>
<path d="M519.6 673.2Q514 675.6 510 681.6L510.3 688.4" fill="none" stroke="#111" stroke-width="2.3" stroke-linecap="round"/>
<path d="M519.6 673.2Q514 675.6 510 681.6L510.3 688.4" fill="none" stroke="#fff" stroke-width="0.8"/>
<path d="M514.0 626.4L542.2 611.4" fill="none" stroke="#111" stroke-width="0.9" />
<path d="M486.7 636.1L514.2 627.0 513.8 625.8 485.7 632.7Z" fill="#111"/>
<path d="M542.2 611.4L559.2 606.6" fill="none" stroke="#111" stroke-width="3.8" />
<ellipse cx="543.2" cy="611.1" rx="2.6" ry="2.4" fill="#111"/>
<path d="M546.2 608.2l1.2 3.4M549.2 607.2l1.2 3.4M552.2 606.2l1.2 3.4" stroke="#fff" stroke-width="0.5"/>
<path d="M481.3 631.0Q480.6 637.0 482.4 639.6Q484.6 641.0 486.4 637.6L486.8 635.0" fill="none" stroke="#111" stroke-width="1"/>
<path d="M598.0 703.4L637.8 688.0" fill="none" stroke="#111" stroke-width="0.9" />
<path d="M580.8 711.3L598.2 704.0 597.8 702.8 579.6 707.9Z" fill="#111"/>
<path d="M637.8 688.0L653.6 682.0" fill="none" stroke="#111" stroke-width="3.8" />
<ellipse cx="638.8" cy="687.7" rx="2.6" ry="2.4" fill="#111"/>
<path d="M641.8 684.8l1.2 3.4M644.8 683.8l1.2 3.4M647.8 682.8l1.2 3.4" stroke="#fff" stroke-width="0.5"/>
<path d="M574.7 704.4Q574.0 710.4 575.8 713.0Q578.0 714.4 579.8 711.0L580.2 708.4" fill="none" stroke="#111" stroke-width="1"/>
<path d="M442.7 578.6L466.5 596.5" stroke="#111" stroke-width="0.8"/>
<path d="M449.6 581.6L458.8 592.4" stroke="#111" stroke-width="4.6" stroke-linecap="round"/>
<path d="M450.4 583.2L451.4 584.6M457.6 590.6L458.4 591.6" stroke="#fff" stroke-width="0.9"/>
<path d="M447.3 600.6Q440.6 595.4 440.4 588.2Q441 571 452 569.2Q460 569.4 463.4 584.4" fill="none" stroke="#111" stroke-width="0.9"/>
<path d="M461.2 582.4L463.6 585.8L465.8 582.2" fill="none" stroke="#111" stroke-width="0.9"/>
<path d="M640.4 737.6L650.8 747.6" stroke="#111" stroke-width="4.2" stroke-linecap="round"/>
<circle cx="651.2" cy="747.2" r="2.6" fill="#111"/>
<path d="M650.2 745.6l0.4 0.5M651.4 748.6l0.3 0.4M644.6 741.6l0.6 0.6" stroke="#fff" stroke-width="0.9"/>
<path d="M661.5 745.8Q661.6 730 650.3 729.2Q640 730 638.5 740.3Q638.4 746 638.6 750Q641 756.4 645.4 759.6" fill="none" stroke="#111" stroke-width="0.9"/>
<path d="M641.2 760.2H645.9L644.6 757.2" fill="none" stroke="#111" stroke-width="0.9"/>
</g>
<!-- QR -->
<g fill="#1a1a1a" font-size="19.8" stroke="#1a1a1a" stroke-width="0.95">
<text x="322.4" y="939.8" textLength="70" lengthAdjust="spacingAndGlyphs">808556</text>
<text x="432.5" y="939.8" textLength="70" lengthAdjust="spacingAndGlyphs">808557</text>
</g>
<path transform="translate(322.7 956.5) scale(1.5667)" fill="#111" d="M0 0h7v1h-7zM8 0h1v1h-1zM11 0h3v1h-3zM16 0h2v1h-2zM19 0h1v1h-1zM21 0h2v1h-2zM24 0h1v1h-1zM27 0h2v1h-2zM31 0h6v1h-6zM38 0h7v1h-7zM0 1h1v1h-1zM6 1h1v1h-1zM8 1h7v1h-7zM18 1h1v1h-1zM21 1h2v1h-2zM26 1h1v1h-1zM29 1h1v1h-1zM35 1h2v1h-2zM38 1h1v1h-1zM44 1h1v1h-1zM0 2h1v1h-1zM2 2h3v1h-3zM6 2h1v1h-1zM9 2h2v1h-2zM14 2h2v1h-2zM19 2h4v1h-4zM26 2h2v1h-2zM33 2h1v1h-1zM38 2h1v1h-1zM40 2h3v1h-3zM44 2h1v1h-1zM0 3h1v1h-1zM2 3h3v1h-3zM6 3h1v1h-1zM8 3h2v1h-2zM12 3h1v1h-1zM20 3h2v1h-2zM24 3h1v1h-1zM26 3h3v1h-3zM32 3h4v1h-4zM38 3h1v1h-1zM40 3h3v1h-3zM44 3h1v1h-1zM0 4h1v1h-1zM2 4h3v1h-3zM6 4h1v1h-1zM12 4h1v1h-1zM15 4h3v1h-3zM19 4h7v1h-7zM27 4h3v1h-3zM31 4h2v1h-2zM34 4h3v1h-3zM38 4h1v1h-1zM40 4h3v1h-3zM44 4h1v1h-1zM0 5h1v1h-1zM6 5h1v1h-1zM8 5h5v1h-5zM15 5h1v1h-1zM18 5h3v1h-3zM24 5h2v1h-2zM27 5h1v1h-1zM31 5h1v1h-1zM35 5h1v1h-1zM38 5h1v1h-1zM44 5h1v1h-1zM0 6h7v1h-7zM8 6h1v1h-1zM10 6h1v1h-1zM12 6h1v1h-1zM14 6h1v1h-1zM16 6h1v1h-1zM18 6h1v1h-1zM20 6h1v1h-1zM22 6h1v1h-1zM24 6h1v1h-1zM26 6h1v1h-1zM28 6h1v1h-1zM30 6h1v1h-1zM32 6h1v1h-1zM34 6h1v1h-1zM36 6h1v1h-1zM38 6h7v1h-7zM8 7h1v1h-1zM10 7h1v1h-1zM12 7h2v1h-2zM16 7h1v1h-1zM18 7h1v1h-1zM20 7h1v1h-1zM24 7h1v1h-1zM26 7h3v1h-3zM30 7h1v1h-1zM34 7h1v1h-1zM2 8h3v1h-3zM6 8h4v1h-4zM11 8h3v1h-3zM16 8h3v1h-3zM20 8h5v1h-5zM26 8h2v1h-2zM31 8h1v1h-1zM34 8h1v1h-1zM36 8h1v1h-1zM38 8h2v1h-2zM41 8h1v1h-1zM0 9h3v1h-3zM8 9h1v1h-1zM10 9h3v1h-3zM16 9h1v1h-1zM19 9h1v1h-1zM21 9h3v1h-3zM27 9h2v1h-2zM31 9h1v1h-1zM33 9h2v1h-2zM36 9h2v1h-2zM39 9h4v1h-4zM44 9h1v1h-1zM1 10h1v1h-1zM4 10h5v1h-5zM10 10h2v1h-2zM13 10h1v1h-1zM15 10h3v1h-3zM21 10h2v1h-2zM28 10h1v1h-1zM30 10h4v1h-4zM35 10h1v1h-1zM39 10h4v1h-4zM0 11h2v1h-2zM5 11h1v1h-1zM7 11h3v1h-3zM11 11h2v1h-2zM14 11h1v1h-1zM16 11h1v1h-1zM18 11h1v1h-1zM21 11h1v1h-1zM23 11h1v1h-1zM27 11h2v1h-2zM31 11h1v1h-1zM33 11h1v1h-1zM35 11h2v1h-2zM43 11h2v1h-2zM0 12h1v1h-1zM3 12h2v1h-2zM6 12h1v1h-1zM11 12h5v1h-5zM17 12h1v1h-1zM19 12h5v1h-5zM25 12h2v1h-2zM28 12h2v1h-2zM33 12h1v1h-1zM36 12h5v1h-5zM44 12h1v1h-1zM1 13h2v1h-2zM5 13h1v1h-1zM9 13h1v1h-1zM12 13h1v1h-1zM20 13h3v1h-3zM25 13h1v1h-1zM28 13h1v1h-1zM30 13h1v1h-1zM32 13h1v1h-1zM36 13h1v1h-1zM39 13h1v1h-1zM44 13h1v1h-1zM2 14h1v1h-1zM4 14h5v1h-5zM11 14h1v1h-1zM13 14h4v1h-4zM18 14h4v1h-4zM25 14h2v1h-2zM28 14h1v1h-1zM30 14h1v1h-1zM36 14h1v1h-1zM40 14h3v1h-3zM44 14h1v1h-1zM5 15h1v1h-1zM9 15h1v1h-1zM11 15h1v1h-1zM13 15h5v1h-5zM20 15h1v1h-1zM22 15h4v1h-4zM31 15h1v1h-1zM33 15h1v1h-1zM36 15h2v1h-2zM40 15h5v1h-5zM5 16h2v1h-2zM11 16h1v1h-1zM20 16h2v1h-2zM25 16h1v1h-1zM27 16h3v1h-3zM32 16h2v1h-2zM35 16h1v1h-1zM39 16h1v1h-1zM42 16h2v1h-2zM0 17h2v1h-2zM4 17h1v1h-1zM8 17h1v1h-1zM12 17h1v1h-1zM14 17h1v1h-1zM16 17h1v1h-1zM19 17h2v1h-2zM24 17h1v1h-1zM27 17h2v1h-2zM31 17h1v1h-1zM33 17h1v1h-1zM35 17h1v1h-1zM39 17h1v1h-1zM41 17h2v1h-2zM44 17h1v1h-1zM1 18h1v1h-1zM4 18h8v1h-8zM14 18h2v1h-2zM20 18h1v1h-1zM22 18h1v1h-1zM24 18h6v1h-6zM31 18h1v1h-1zM33 18h1v1h-1zM35 18h1v1h-1zM39 18h1v1h-1zM42 18h2v1h-2zM1 19h1v1h-1zM4 19h1v1h-1zM7 19h2v1h-2zM10 19h4v1h-4zM16 19h2v1h-2zM19 19h5v1h-5zM29 19h1v1h-1zM33 19h2v1h-2zM37 19h1v1h-1zM41 19h4v1h-4zM1 20h1v1h-1zM4 20h5v1h-5zM12 20h1v1h-1zM14 20h1v1h-1zM18 20h7v1h-7zM26 20h2v1h-2zM29 20h1v1h-1zM31 20h3v1h-3zM36 20h6v1h-6zM43 20h1v1h-1zM0 21h3v1h-3zM4 21h1v1h-1zM8 21h3v1h-3zM14 21h3v1h-3zM18 21h3v1h-3zM24 21h1v1h-1zM28 21h1v1h-1zM30 21h1v1h-1zM36 21h1v1h-1zM40 21h1v1h-1zM43 21h2v1h-2zM0 22h1v1h-1zM2 22h3v1h-3zM6 22h1v1h-1zM8 22h1v1h-1zM10 22h1v1h-1zM13 22h4v1h-4zM20 22h1v1h-1zM22 22h1v1h-1zM24 22h2v1h-2zM27 22h3v1h-3zM31 22h1v1h-1zM36 22h1v1h-1zM38 22h1v1h-1zM40 22h1v1h-1zM44 22h1v1h-1zM4 23h1v1h-1zM8 23h1v1h-1zM11 23h1v1h-1zM14 23h2v1h-2zM18 23h3v1h-3zM24 23h1v1h-1zM28 23h2v1h-2zM31 23h2v1h-2zM34 23h3v1h-3zM40 23h2v1h-2zM44 23h1v1h-1zM0 24h1v1h-1zM3 24h6v1h-6zM10 24h2v1h-2zM14 24h1v1h-1zM19 24h6v1h-6zM32 24h2v1h-2zM36 24h5v1h-5zM42 24h2v1h-2zM2 25h1v1h-1zM4 25h2v1h-2zM7 25h1v1h-1zM9 25h3v1h-3zM22 25h1v1h-1zM24 25h2v1h-2zM30 25h1v1h-1zM35 25h2v1h-2zM43 25h2v1h-2zM1 26h1v1h-1zM3 26h10v1h-10zM15 26h1v1h-1zM17 26h1v1h-1zM21 26h1v1h-1zM23 26h1v1h-1zM25 26h1v1h-1zM28 26h2v1h-2zM31 26h4v1h-4zM36 26h1v1h-1zM39 26h1v1h-1zM44 26h1v1h-1zM2 27h1v1h-1zM4 27h1v1h-1zM7 27h4v1h-4zM15 27h2v1h-2zM18 27h1v1h-1zM21 27h1v1h-1zM23 27h2v1h-2zM26 27h1v1h-1zM28 27h1v1h-1zM31 27h2v1h-2zM35 27h1v1h-1zM37 27h3v1h-3zM44 27h1v1h-1zM1 28h1v1h-1zM4 28h3v1h-3zM8 28h3v1h-3zM16 28h3v1h-3zM20 28h5v1h-5zM26 28h1v1h-1zM30 28h2v1h-2zM36 28h7v1h-7zM2 29h2v1h-2zM7 29h4v1h-4zM12 29h2v1h-2zM16 29h1v1h-1zM19 29h4v1h-4zM25 29h2v1h-2zM28 29h7v1h-7zM37 29h1v1h-1zM39 29h1v1h-1zM41 29h1v1h-1zM43 29h1v1h-1zM4 30h1v1h-1zM6 30h1v1h-1zM11 30h1v1h-1zM15 30h1v1h-1zM17 30h3v1h-3zM21 30h2v1h-2zM24 30h4v1h-4zM34 30h2v1h-2zM37 30h1v1h-1zM39 30h1v1h-1zM41 30h1v1h-1zM44 30h1v1h-1zM1 31h1v1h-1zM3 31h3v1h-3zM8 31h1v1h-1zM12 31h1v1h-1zM16 31h1v1h-1zM19 31h1v1h-1zM22 31h1v1h-1zM24 31h1v1h-1zM26 31h3v1h-3zM30 31h4v1h-4zM35 31h2v1h-2zM42 31h1v1h-1zM44 31h1v1h-1zM1 32h2v1h-2zM5 32h2v1h-2zM8 32h1v1h-1zM12 32h4v1h-4zM17 32h1v1h-1zM21 32h1v1h-1zM24 32h1v1h-1zM26 32h2v1h-2zM30 32h1v1h-1zM32 32h1v1h-1zM34 32h1v1h-1zM36 32h2v1h-2zM41 32h3v1h-3zM1 33h2v1h-2zM8 33h6v1h-6zM17 33h2v1h-2zM22 33h2v1h-2zM28 33h2v1h-2zM34 33h2v1h-2zM39 33h1v1h-1zM42 33h1v1h-1zM5 34h2v1h-2zM8 34h1v1h-1zM10 34h1v1h-1zM13 34h1v1h-1zM15 34h2v1h-2zM18 34h3v1h-3zM24 34h1v1h-1zM26 34h1v1h-1zM28 34h5v1h-5zM34 34h2v1h-2zM41 34h4v1h-4zM0 35h6v1h-6zM9 35h2v1h-2zM14 35h2v1h-2zM17 35h1v1h-1zM19 35h1v1h-1zM21 35h1v1h-1zM24 35h1v1h-1zM26 35h4v1h-4zM32 35h1v1h-1zM34 35h1v1h-1zM36 35h1v1h-1zM38 35h1v1h-1zM40 35h3v1h-3zM2 36h2v1h-2zM5 36h2v1h-2zM10 36h1v1h-1zM13 36h2v1h-2zM16 36h1v1h-1zM20 36h6v1h-6zM27 36h1v1h-1zM29 36h4v1h-4zM34 36h7v1h-7zM42 36h1v1h-1zM8 37h1v1h-1zM14 37h3v1h-3zM18 37h1v1h-1zM20 37h1v1h-1zM24 37h4v1h-4zM32 37h1v1h-1zM34 37h3v1h-3zM40 37h2v1h-2zM44 37h1v1h-1zM0 38h7v1h-7zM10 38h2v1h-2zM15 38h1v1h-1zM17 38h1v1h-1zM19 38h2v1h-2zM22 38h1v1h-1zM24 38h2v1h-2zM27 38h2v1h-2zM32 38h1v1h-1zM36 38h1v1h-1zM38 38h1v1h-1zM40 38h1v1h-1zM42 38h1v1h-1zM44 38h1v1h-1zM0 39h1v1h-1zM6 39h1v1h-1zM11 39h2v1h-2zM14 39h2v1h-2zM18 39h1v1h-1zM20 39h1v1h-1zM24 39h1v1h-1zM27 39h1v1h-1zM31 39h1v1h-1zM33 39h1v1h-1zM35 39h2v1h-2zM40 39h2v1h-2zM0 40h1v1h-1zM2 40h3v1h-3zM6 40h1v1h-1zM8 40h1v1h-1zM11 40h1v1h-1zM14 40h4v1h-4zM19 40h8v1h-8zM32 40h2v1h-2zM36 40h6v1h-6zM0 41h1v1h-1zM2 41h3v1h-3zM6 41h1v1h-1zM9 41h2v1h-2zM12 41h3v1h-3zM16 41h4v1h-4zM21 41h1v1h-1zM25 41h2v1h-2zM29 41h3v1h-3zM33 41h2v1h-2zM37 41h1v1h-1zM41 41h1v1h-1zM43 41h2v1h-2zM0 42h1v1h-1zM2 42h3v1h-3zM6 42h1v1h-1zM8 42h1v1h-1zM10 42h4v1h-4zM15 42h1v1h-1zM18 42h1v1h-1zM20 42h1v1h-1zM22 42h2v1h-2zM25 42h1v1h-1zM27 42h1v1h-1zM29 42h1v1h-1zM31 42h5v1h-5zM37 42h2v1h-2zM40 42h1v1h-1zM42 42h3v1h-3zM0 43h1v1h-1zM6 43h1v1h-1zM8 43h2v1h-2zM13 43h1v1h-1zM15 43h3v1h-3zM25 43h1v1h-1zM29 43h2v1h-2zM37 43h2v1h-2zM40 43h2v1h-2zM43 43h2v1h-2zM0 44h7v1h-7zM12 44h2v1h-2zM15 44h1v1h-1zM17 44h1v1h-1zM20 44h3v1h-3zM26 44h3v1h-3zM31 44h1v1h-1zM35 44h1v1h-1zM38 44h1v1h-1zM42 44h3v1h-3z"/>
<path transform="translate(432.8 956.5) scale(1.5667)" fill="#111" d="M0 0h7v1h-7zM10 0h2v1h-2zM15 0h1v1h-1zM19 0h3v1h-3zM26 0h7v1h-7zM36 0h1v1h-1zM38 0h7v1h-7zM0 1h1v1h-1zM6 1h1v1h-1zM8 1h3v1h-3zM14 1h1v1h-1zM21 1h1v1h-1zM24 1h1v1h-1zM27 1h1v1h-1zM29 1h1v1h-1zM33 1h1v1h-1zM36 1h1v1h-1zM38 1h1v1h-1zM44 1h1v1h-1zM0 2h1v1h-1zM2 2h3v1h-3zM6 2h1v1h-1zM11 2h3v1h-3zM15 2h1v1h-1zM17 2h1v1h-1zM19 2h1v1h-1zM26 2h2v1h-2zM31 2h1v1h-1zM35 2h1v1h-1zM38 2h1v1h-1zM40 2h3v1h-3zM44 2h1v1h-1zM0 3h1v1h-1zM2 3h3v1h-3zM6 3h1v1h-1zM8 3h1v1h-1zM10 3h2v1h-2zM13 3h1v1h-1zM16 3h2v1h-2zM19 3h1v1h-1zM21 3h3v1h-3zM25 3h1v1h-1zM27 3h1v1h-1zM29 3h2v1h-2zM32 3h2v1h-2zM35 3h2v1h-2zM38 3h1v1h-1zM40 3h3v1h-3zM44 3h1v1h-1zM0 4h1v1h-1zM2 4h3v1h-3zM6 4h1v1h-1zM9 4h3v1h-3zM14 4h4v1h-4zM20 4h5v1h-5zM29 4h2v1h-2zM32 4h3v1h-3zM36 4h1v1h-1zM38 4h1v1h-1zM40 4h3v1h-3zM44 4h1v1h-1zM0 5h1v1h-1zM6 5h1v1h-1zM9 5h1v1h-1zM11 5h1v1h-1zM13 5h1v1h-1zM15 5h2v1h-2zM18 5h3v1h-3zM24 5h4v1h-4zM33 5h3v1h-3zM38 5h1v1h-1zM44 5h1v1h-1zM0 6h7v1h-7zM8 6h1v1h-1zM10 6h1v1h-1zM12 6h1v1h-1zM14 6h1v1h-1zM16 6h1v1h-1zM18 6h1v1h-1zM20 6h1v1h-1zM22 6h1v1h-1zM24 6h1v1h-1zM26 6h1v1h-1zM28 6h1v1h-1zM30 6h1v1h-1zM32 6h1v1h-1zM34 6h1v1h-1zM36 6h1v1h-1zM38 6h7v1h-7zM11 7h2v1h-2zM14 7h4v1h-4zM19 7h2v1h-2zM24 7h5v1h-5zM30 7h2v1h-2zM33 7h1v1h-1zM0 8h1v1h-1zM3 8h2v1h-2zM6 8h3v1h-3zM10 8h1v1h-1zM14 8h1v1h-1zM16 8h2v1h-2zM19 8h7v1h-7zM28 8h5v1h-5zM34 8h3v1h-3zM38 8h1v1h-1zM40 8h1v1h-1zM42 8h2v1h-2zM0 9h4v1h-4zM9 9h1v1h-1zM13 9h3v1h-3zM17 9h1v1h-1zM19 9h1v1h-1zM24 9h5v1h-5zM33 9h2v1h-2zM36 9h4v1h-4zM43 9h2v1h-2zM0 10h1v1h-1zM3 10h1v1h-1zM5 10h2v1h-2zM10 10h1v1h-1zM13 10h1v1h-1zM15 10h1v1h-1zM17 10h1v1h-1zM21 10h3v1h-3zM26 10h1v1h-1zM28 10h2v1h-2zM33 10h1v1h-1zM35 10h1v1h-1zM40 10h1v1h-1zM42 10h1v1h-1zM1 11h2v1h-2zM8 11h1v1h-1zM14 11h1v1h-1zM17 11h1v1h-1zM20 11h1v1h-1zM22 11h1v1h-1zM24 11h2v1h-2zM27 11h2v1h-2zM30 11h3v1h-3zM36 11h1v1h-1zM38 11h2v1h-2zM41 11h2v1h-2zM44 11h1v1h-1zM2 12h1v1h-1zM6 12h7v1h-7zM15 12h1v1h-1zM17 12h2v1h-2zM20 12h1v1h-1zM22 12h1v1h-1zM25 12h1v1h-1zM27 12h1v1h-1zM31 12h1v1h-1zM33 12h1v1h-1zM35 12h1v1h-1zM40 12h5v1h-5zM1 13h1v1h-1zM3 13h3v1h-3zM7 13h5v1h-5zM14 13h1v1h-1zM17 13h4v1h-4zM22 13h2v1h-2zM25 13h1v1h-1zM28 13h1v1h-1zM30 13h1v1h-1zM42 13h1v1h-1zM0 14h3v1h-3zM4 14h3v1h-3zM8 14h1v1h-1zM10 14h4v1h-4zM17 14h1v1h-1zM19 14h1v1h-1zM21 14h2v1h-2zM24 14h2v1h-2zM27 14h9v1h-9zM37 14h2v1h-2zM40 14h2v1h-2zM43 14h1v1h-1zM0 15h1v1h-1zM3 15h1v1h-1zM7 15h1v1h-1zM9 15h2v1h-2zM12 15h1v1h-1zM20 15h2v1h-2zM23 15h2v1h-2zM26 15h1v1h-1zM30 15h2v1h-2zM33 15h5v1h-5zM39 15h1v1h-1zM42 15h1v1h-1zM44 15h1v1h-1zM0 16h1v1h-1zM2 16h1v1h-1zM4 16h3v1h-3zM12 16h9v1h-9zM27 16h2v1h-2zM31 16h6v1h-6zM40 16h2v1h-2zM44 16h1v1h-1zM3 17h1v1h-1zM5 17h1v1h-1zM7 17h1v1h-1zM13 17h2v1h-2zM19 17h3v1h-3zM24 17h1v1h-1zM28 17h3v1h-3zM33 17h1v1h-1zM36 17h2v1h-2zM39 17h1v1h-1zM41 17h1v1h-1zM43 17h1v1h-1zM0 18h2v1h-2zM3 18h1v1h-1zM6 18h2v1h-2zM11 18h9v1h-9zM21 18h2v1h-2zM25 18h1v1h-1zM30 18h2v1h-2zM33 18h2v1h-2zM36 18h4v1h-4zM41 18h3v1h-3zM0 19h1v1h-1zM2 19h2v1h-2zM5 19h1v1h-1zM7 19h1v1h-1zM11 19h1v1h-1zM14 19h2v1h-2zM18 19h1v1h-1zM24 19h3v1h-3zM28 19h1v1h-1zM30 19h2v1h-2zM33 19h5v1h-5zM40 19h1v1h-1zM43 19h1v1h-1zM0 20h1v1h-1zM2 20h1v1h-1zM4 20h5v1h-5zM14 20h11v1h-11zM29 20h1v1h-1zM31 20h1v1h-1zM33 20h8v1h-8zM42 20h1v1h-1zM44 20h1v1h-1zM0 21h1v1h-1zM3 21h2v1h-2zM8 21h1v1h-1zM10 21h1v1h-1zM17 21h2v1h-2zM20 21h1v1h-1zM24 21h2v1h-2zM30 21h1v1h-1zM33 21h2v1h-2zM36 21h1v1h-1zM40 21h3v1h-3zM2 22h1v1h-1zM4 22h1v1h-1zM6 22h1v1h-1zM8 22h3v1h-3zM13 22h1v1h-1zM15 22h1v1h-1zM17 22h4v1h-4zM22 22h1v1h-1zM24 22h3v1h-3zM28 22h1v1h-1zM30 22h1v1h-1zM33 22h1v1h-1zM35 22h2v1h-2zM38 22h1v1h-1zM40 22h4v1h-4zM2 23h3v1h-3zM8 23h1v1h-1zM12 23h1v1h-1zM14 23h3v1h-3zM20 23h1v1h-1zM24 23h1v1h-1zM26 23h6v1h-6zM36 23h1v1h-1zM40 23h3v1h-3zM3 24h6v1h-6zM10 24h1v1h-1zM12 24h1v1h-1zM16 24h1v1h-1zM19 24h6v1h-6zM30 24h1v1h-1zM33 24h1v1h-1zM36 24h6v1h-6zM0 25h1v1h-1zM2 25h2v1h-2zM7 25h2v1h-2zM11 25h1v1h-1zM14 25h1v1h-1zM20 25h4v1h-4zM25 25h1v1h-1zM28 25h1v1h-1zM30 25h2v1h-2zM33 25h1v1h-1zM35 25h5v1h-5zM41 25h3v1h-3zM4 26h1v1h-1zM6 26h3v1h-3zM12 26h2v1h-2zM16 26h1v1h-1zM19 26h2v1h-2zM23 26h1v1h-1zM25 26h1v1h-1zM29 26h6v1h-6zM40 26h2v1h-2zM43 26h2v1h-2zM1 27h3v1h-3zM5 27h1v1h-1zM8 27h1v1h-1zM10 27h2v1h-2zM13 27h1v1h-1zM16 27h1v1h-1zM18 27h4v1h-4zM25 27h2v1h-2zM28 27h3v1h-3zM32 27h4v1h-4zM37 27h2v1h-2zM44 27h1v1h-1zM1 28h3v1h-3zM6 28h1v1h-1zM11 28h1v1h-1zM14 28h1v1h-1zM16 28h2v1h-2zM22 28h1v1h-1zM26 28h3v1h-3zM31 28h1v1h-1zM34 28h1v1h-1zM36 28h2v1h-2zM41 28h1v1h-1zM0 29h6v1h-6zM9 29h1v1h-1zM12 29h2v1h-2zM16 29h1v1h-1zM18 29h2v1h-2zM21 29h2v1h-2zM25 29h1v1h-1zM28 29h1v1h-1zM33 29h1v1h-1zM35 29h7v1h-7zM44 29h1v1h-1zM1 30h3v1h-3zM6 30h1v1h-1zM8 30h7v1h-7zM17 30h2v1h-2zM20 30h7v1h-7zM29 30h3v1h-3zM35 30h1v1h-1zM37 30h1v1h-1zM41 30h3v1h-3zM1 31h2v1h-2zM5 31h1v1h-1zM8 31h2v1h-2zM13 31h1v1h-1zM18 31h2v1h-2zM21 31h1v1h-1zM25 31h1v1h-1zM27 31h1v1h-1zM31 31h1v1h-1zM40 31h4v1h-4zM0 32h1v1h-1zM2 32h1v1h-1zM4 32h4v1h-4zM10 32h4v1h-4zM15 32h1v1h-1zM18 32h5v1h-5zM24 32h1v1h-1zM26 32h1v1h-1zM28 32h1v1h-1zM30 32h1v1h-1zM34 32h2v1h-2zM39 32h1v1h-1zM44 32h1v1h-1zM0 33h2v1h-2zM7 33h4v1h-4zM14 33h1v1h-1zM18 33h2v1h-2zM24 33h5v1h-5zM31 33h1v1h-1zM33 33h1v1h-1zM37 33h1v1h-1zM40 33h2v1h-2zM43 33h2v1h-2zM0 34h5v1h-5zM6 34h1v1h-1zM9 34h1v1h-1zM13 34h4v1h-4zM19 34h1v1h-1zM23 34h1v1h-1zM25 34h1v1h-1zM28 34h1v1h-1zM30 34h2v1h-2zM33 34h4v1h-4zM38 34h5v1h-5zM44 34h1v1h-1zM0 35h2v1h-2zM3 35h3v1h-3zM10 35h1v1h-1zM12 35h3v1h-3zM21 35h1v1h-1zM25 35h1v1h-1zM29 35h1v1h-1zM33 35h1v1h-1zM35 35h1v1h-1zM37 35h3v1h-3zM42 35h1v1h-1zM3 36h2v1h-2zM6 36h2v1h-2zM10 36h3v1h-3zM16 36h1v1h-1zM19 36h6v1h-6zM26 36h1v1h-1zM28 36h2v1h-2zM31 36h1v1h-1zM33 36h2v1h-2zM36 36h5v1h-5zM8 37h2v1h-2zM12 37h1v1h-1zM15 37h3v1h-3zM20 37h1v1h-1zM24 37h1v1h-1zM29 37h1v1h-1zM33 37h1v1h-1zM35 37h2v1h-2zM40 37h2v1h-2zM44 37h1v1h-1zM0 38h7v1h-7zM9 38h2v1h-2zM13 38h1v1h-1zM15 38h6v1h-6zM22 38h1v1h-1zM24 38h1v1h-1zM27 38h5v1h-5zM34 38h3v1h-3zM38 38h1v1h-1zM40 38h1v1h-1zM42 38h1v1h-1zM0 39h1v1h-1zM6 39h1v1h-1zM8 39h2v1h-2zM14 39h2v1h-2zM17 39h2v1h-2zM20 39h1v1h-1zM24 39h2v1h-2zM27 39h3v1h-3zM34 39h1v1h-1zM36 39h1v1h-1zM40 39h1v1h-1zM43 39h2v1h-2zM0 40h1v1h-1zM2 40h3v1h-3zM6 40h1v1h-1zM11 40h1v1h-1zM13 40h1v1h-1zM15 40h2v1h-2zM18 40h1v1h-1zM20 40h5v1h-5zM27 40h2v1h-2zM30 40h2v1h-2zM33 40h1v1h-1zM36 40h6v1h-6zM43 40h2v1h-2zM0 41h1v1h-1zM2 41h3v1h-3zM6 41h1v1h-1zM12 41h2v1h-2zM16 41h1v1h-1zM19 41h3v1h-3zM23 41h1v1h-1zM25 41h1v1h-1zM27 41h1v1h-1zM29 41h2v1h-2zM32 41h1v1h-1zM35 41h2v1h-2zM39 41h1v1h-1zM44 41h1v1h-1zM0 42h1v1h-1zM2 42h3v1h-3zM6 42h1v1h-1zM8 42h2v1h-2zM12 42h2v1h-2zM16 42h3v1h-3zM20 42h1v1h-1zM23 42h2v1h-2zM28 42h1v1h-1zM30 42h1v1h-1zM32 42h2v1h-2zM38 42h2v1h-2zM42 42h3v1h-3zM0 43h1v1h-1zM6 43h1v1h-1zM8 43h1v1h-1zM10 43h3v1h-3zM19 43h6v1h-6zM28 43h5v1h-5zM35 43h1v1h-1zM39 43h2v1h-2zM42 43h2v1h-2zM0 44h7v1h-7zM10 44h5v1h-5zM17 44h3v1h-3zM21 44h1v1h-1zM23 44h2v1h-2zM26 44h1v1h-1zM29 44h1v1h-1zM32 44h4v1h-4zM38 44h1v1h-1zM40 44h3v1h-3zM44 44h1v1h-1z"/>
<text x="329.8" y="1100" font-size="21" font-weight="bold" fill="#1a1a1a" stroke="#1a1a1a" stroke-width="0.5" textLength="166.2" lengthAdjust="spacingAndGlyphs">www.lightstar.ru</text>
</svg>
</body></html>
